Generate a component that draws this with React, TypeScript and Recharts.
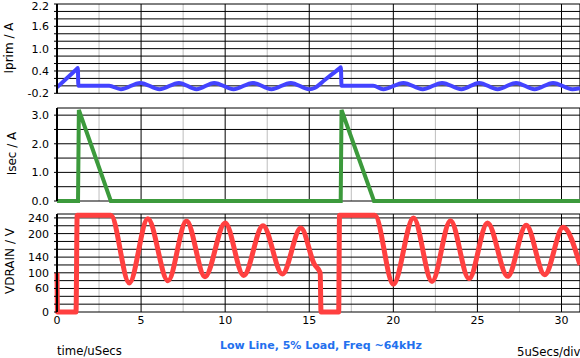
import React from 'react';
import { LineChart, Line, XAxis, YAxis, CartesianGrid } from 'recharts';

const FONT = '"DejaVu Sans", Verdana, sans-serif';

const X_DOMAIN = [0, 31.1];
const X_TICKS = [0, 5, 10, 15, 20, 25, 30];
const X_MINOR = [2.5, 7.5, 12.5, 17.5, 22.5, 27.5];

// primary current (A) vs time (uSecs)
const IPRIM_T = [0, 0.6, 1.0, 1.2, 1.24, 1.27, 3.1, 3.8, 4.95, 6.1, 7.25, 8.3, 9.35, 10.5, 11.65, 12.75, 13.9, 15.0, 15.35, 15.9, 16.4, 16.8, 16.88, 16.92, 18.8, 19.4, 20.6, 21.75, 22.9, 24.05, 25.1, 26.2, 27.3, 28.4, 29.5, 30.65, 31.1];
const IPRIM_V = [-0.04, 0.21, 0.38, 0.465, 0.48, 0.0, 0.0, -0.09, 0.08, -0.09, 0.08, -0.09, 0.08, -0.09, 0.08, -0.09, 0.08, -0.09, -0.05, 0.15, 0.33, 0.47, 0.5, 0.0, 0.0, -0.09, 0.08, -0.09, 0.08, -0.09, 0.08, -0.09, 0.08, -0.09, 0.08, -0.09, -0.06];
const IPRIM_GRID = [-0.2, 0, 0.2, 0.4, 0.6, 0.8, 1.0, 1.2, 1.4, 1.6, 1.8, 2.0, 2.2];
const IPRIM_LABELS = [-0.2, 0.4, 1.0, 1.6, 2.2];

// secondary current (A)
const ISEC_T = [0, 1.25, 1.3, 3.2, 16.87, 16.92, 18.85, 31.1];
const ISEC_V = [0, 0, 3.18, 0, 0, 3.18, 0, 0];
const ISEC_GRID = [0, 0.5, 1.0, 1.5, 2.0, 2.5, 3.0];
const ISEC_LABELS = [0, 1.0, 2.0, 3.0];

// drain voltage (V)
const VDRAIN_T = [0, 0.03, 1.13, 1.2, 3.2, 4.3, 5.4, 6.6, 7.7, 8.8, 10.0, 11.1, 12.25, 13.4, 14.5, 15.3, 15.65, 15.7, 16.75, 16.8, 18.9, 20.0, 21.2, 22.3, 23.4, 24.5, 25.6, 26.8, 27.9, 29.0, 30.1, 31.1];
const VDRAIN_V = [100, 0, 0, 247, 247, 74, 238, 80, 232, 90, 227, 93, 220, 97, 214, 122, 100, 0, 0, 247, 247, 71, 240, 78, 233, 85, 227, 91, 221, 95, 216, 120];
const VDRAIN_GRID = [0, 20, 40, 60, 80, 100, 120, 140, 160, 180, 200, 220, 240];
const VDRAIN_LABELS = [0, 60, 100, 140, 200, 240];

const zip = (ts: number[], vs: number[]) => ts.map((t, i) => ({ t, v: vs[i] }));

type PanelProps = {
  top: number;
  height: number;
  mTop: number;
  mBottom: number;
  data: { t: number; v: number }[];
  domain: number[];
  grid: number[];
  labels: number[];
  digits: number;
  color: string;
  width: number;
  curve: 'monotone' | 'linear';
  showX?: boolean;
};

// y tick label; keeps the topmost label inside the picture
function YTick(props: any) {
  const { x, y, payload, labels, digits } = props;
  const v = payload.value as number;
  if (!labels.includes(v)) return null;
  return (
    <text x={x} y={Math.max(y, 6.5)} dy="0.355em" textAnchor="end" fontSize={11} fontFamily={FONT} fill="#000">
      {v.toFixed(digits)}
    </text>
  );
}

function Panel(p: PanelProps) {
  return (
    <div style={{ position: 'absolute', left: 0, top: p.top }}>
      <LineChart
        width={580}
        height={p.height}
        data={p.data}
        margin={{ top: p.mTop, right: 0, bottom: p.mBottom, left: 0 }}
      >
        <XAxis xAxisId="minor" type="number" dataKey="t" domain={X_DOMAIN} ticks={X_MINOR} hide />
        <XAxis
          type="number"
          dataKey="t"
          domain={X_DOMAIN}
          ticks={X_TICKS}
          interval={0}
          hide={!p.showX}
          height={p.showX ? 46 : 0}
          axisLine={false}
          tickLine={false}
          tickSize={0}
          tickMargin={4}
          tick={{ fill: '#000', fontSize: 11, fontFamily: FONT }}
        />
        <YAxis
          width={57}
          type="number"
          domain={p.domain}
          ticks={p.grid}
          interval={0}
          tickSize={3}
          tickMargin={5}
          axisLine={{ stroke: '#000', strokeWidth: 2 }}
          tickLine={{ stroke: '#000' }}
          tick={<YTick labels={p.labels} digits={p.digits} />}
        />
        <CartesianGrid xAxisId="minor" horizontal={false} stroke="#bdbdbd" />
        <CartesianGrid stroke="#000" />
        <Line
          type={p.curve}
          dataKey="v"
          stroke={p.color}
          strokeWidth={p.width}
          dot={false}
          isAnimationActive={false}
        />
      </LineChart>
    </div>
  );
}

export default function App() {
  return (
    <div style={{ position: 'absolute', left: 0, top: 0, width: 580, height: 358, background: '#fff', fontFamily: FONT }}>
      <Panel top={0} height={101} mTop={4} mBottom={7.7} data={zip(IPRIM_T, IPRIM_V)} domain={[-0.2, 2.2]}
        grid={IPRIM_GRID} labels={IPRIM_LABELS} digits={1} color="#4343ff" width={4} curve="monotone" />
      <Panel top={102} height={108} mTop={6} mBottom={9} data={zip(ISEC_T, ISEC_V)} domain={[0, 3.25]}
        grid={ISEC_GRID} labels={ISEC_LABELS} digits={1} color="#3c9a3c" width={4} curve="linear" />
      <Panel top={210} height={148} mTop={4} mBottom={0} data={zip(VDRAIN_T, VDRAIN_V)} domain={[0, 250]}
        grid={VDRAIN_GRID} labels={VDRAIN_LABELS} digits={0} color="#ff4040" width={5} curve="monotone" showX />
      <svg width={580} height={358} style={{ position: 'absolute', left: 0, top: 0, pointerEvents: 'none' }}>
        <g fontFamily={FONT} fill="#000">
          <text x={12.5} y={48} fontSize={12} textAnchor="middle" transform="rotate(-90 12.5 48)">Iprim / A</text>
          <text x={16} y={153.5} fontSize={12} textAnchor="middle" transform="rotate(-90 16 153.5)">Isec / A</text>
          <text x={13.5} y={261} fontSize={12} textAnchor="middle" transform="rotate(-90 13.5 261)">VDRAIN / V</text>
          <text x={57} y={355} fontSize={11.7}>time/uSecs</text>
          <text x={517} y={355.5} fontSize={11.7}>5uSecs/div</text>
          <text x={220} y={348.5} fontSize={11} fontWeight="bold" fill="#2370ee">Low Line, 5% Load, Freq ~64kHz</text>
        </g>
      </svg>
    </div>
  );
}
